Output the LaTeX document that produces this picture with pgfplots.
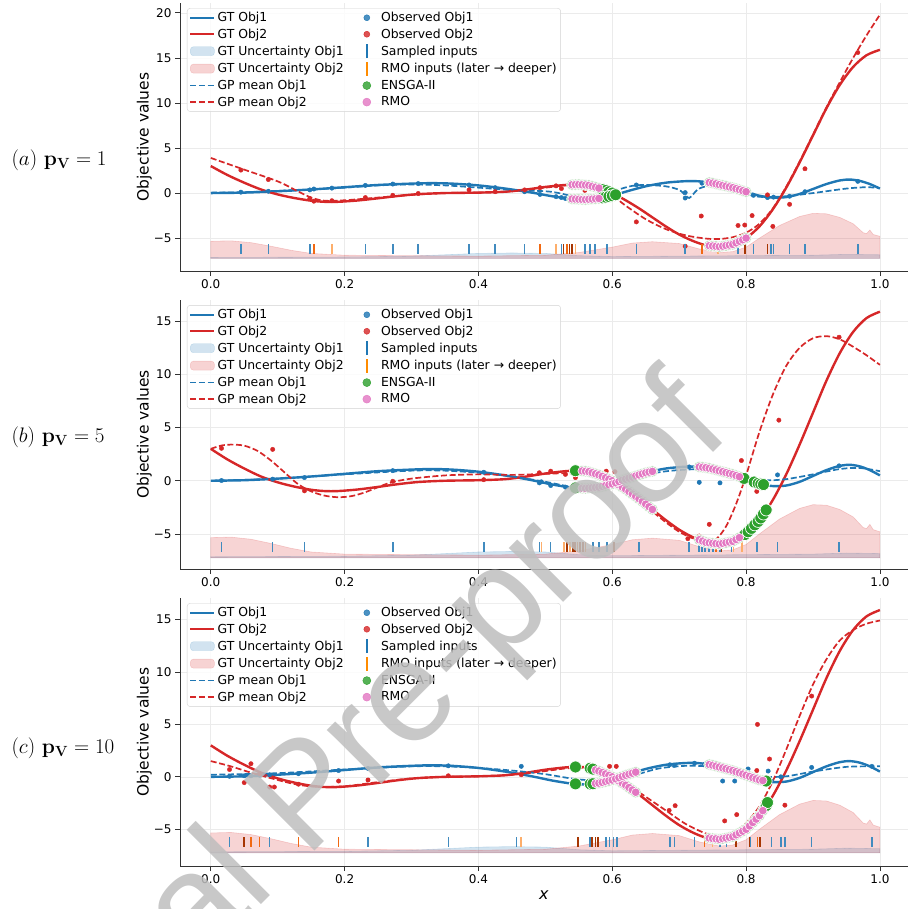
\documentclass[border=0pt]{standalone}
\usepackage{fix-cm}
\usepackage[no-math]{fontspec}
\setmainfont{DejaVu Sans}
\newfontfamily\wmfont{Liberation Sans}
\usepackage{pgfplots}
\pgfplotsset{compat=1.18}

\definecolor{tblue}{HTML}{1F77B4}
\definecolor{tred}{HTML}{D62728}
\definecolor{tgreen}{HTML}{2CA02C}
\definecolor{tpink}{HTML}{E377C2}
\definecolor{orl}{HTML}{FDAE6B}
\definecolor{orm}{HTML}{F16913}
\definecolor{ord}{HTML}{A63603}
\definecolor{wm}{HTML}{BEBEBE}

% ground truth, shared by all panels
\pgfplotstableread{
x y
0 0
0.05 0.05
0.1 0.2
0.15 0.4
0.2 0.65
0.25 0.9
0.3 1.05
0.33 1.1
0.36 1.05
0.4 0.85
0.44 0.5
0.48 0.05
0.51 -0.35
0.54 -0.65
0.56 -0.72
0.58 -0.6
0.6 -0.3
0.62 0.15
0.65 0.75
0.68 1.15
0.71 1.32
0.73 1.3
0.75 1.1
0.78 0.6
0.8 0.15
0.82 -0.3
0.84 -0.5
0.86 -0.45
0.88 -0.1
0.9 0.45
0.92 1.0
0.94 1.4
0.955 1.5
0.97 1.35
0.985 1.0
1.0 0.5
}\gtone

\pgfplotstableread{
x y
0 3.0
0.025 2.0
0.05 1.15
0.075 0.4
0.1 -0.15
0.125 -0.55
0.15 -0.85
0.17 -0.97
0.19 -0.97
0.22 -0.82
0.25 -0.58
0.28 -0.32
0.31 -0.12
0.35 0.0
0.4 0.05
0.44 0.15
0.47 0.38
0.5 0.68
0.53 0.9
0.55 0.95
0.565 0.85
0.58 0.55
0.6 0.0
0.62 -0.8
0.64 -1.7
0.66 -2.7
0.68 -3.7
0.70 -4.6
0.72 -5.3
0.74 -5.8
0.76 -5.95
0.78 -5.7
0.80 -5.0
0.82 -3.7
0.84 -1.8
0.86 0.6
0.88 3.4
0.90 6.4
0.92 9.4
0.94 12.0
0.96 14.0
0.98 15.3
1.0 15.9
}\gttwo

% uncertainty bands (top edge, closed on the baseline)
\pgfplotstableread{
x y
0 -7.25
0 -7.15
0.2 -7.1
0.3 -7.0
0.35 -6.85
0.4 -6.7
0.45 -6.65
0.5 -6.7
0.55 -6.95
0.6 -7.05
0.7 -7.0
0.8 -6.95
0.9 -6.9
0.95 -6.8
1.0 -6.85
1.0 -7.25
}\bandone

\pgfplotstableread{
x y
0 -7.25
0 -5.35
0.03 -5.3
0.06 -5.5
0.09 -5.9
0.12 -6.35
0.15 -6.7
0.2 -6.9
0.3 -6.95
0.4 -7.0
0.5 -6.9
0.55 -6.6
0.6 -6.0
0.63 -5.55
0.66 -5.4
0.7 -5.6
0.73 -6.2
0.76 -6.6
0.78 -6.5
0.8 -6.0
0.82 -5.0
0.85 -3.6
0.88 -2.6
0.9 -2.25
0.92 -2.3
0.94 -2.7
0.96 -3.4
0.975 -4.4
0.98 -4.5
0.985 -4.1
0.99 -4.6
1.0 -4.8
1.0 -7.25
}\bandtwo

\pgfplotsset{
  panel/.style={
    scale only axis, width=728pt, height=268pt,
    xmin=-0.046, xmax=1.042,
    axis x line*=bottom, axis y line*=left,
    axis line style={-, black!80, line width=0.8pt},
    tick align=outside, major tick length=5pt,
    tick style={black!80, line width=0.8pt},
    xmajorgrids, ymajorgrids, grid style={gray!16, line width=0.6pt},
    xtick={0,0.2,0.4,0.6,0.8,1}, xticklabels={0.0,0.2,0.4,0.6,0.8,1.0},
    ticklabel style={font=\fontsize{12}{14}\selectfont},
    ylabel={Objective values}, ylabel shift=-5pt,
    ylabel style={font=\fontsize{15.5}{18}\selectfont},
    legend columns=2, legend cell align=left,
    legend style={at={(0.0096,0.981)}, anchor=north west,
      draw=gray!35, fill=white, fill opacity=0.8, text opacity=1,
      rounded corners=3pt, inner sep=2pt, row sep=1.6pt,
      font=\fontsize{12.4}{14}\selectfont,
      /tikz/every even column/.append style={column sep=9pt}},
  },
  gtline/.style={smooth, line width=2.4pt},
  gpline/.style={smooth, line width=1.7pt, dash pattern=on 6pt off 2.6pt},
  obs/.style={only marks, mark=*, mark size=2.2pt},
  stick/.style={only marks, mark=|, mark size=5pt, mark options={line width=1.6pt}},
  halo/.style={only marks, mark=*, mark size=5.6pt, mark options={fill=tgreen!40, draw=white, line width=0.5pt}},
  ens/.style={only marks, mark=*, mark size=6pt, mark options={fill=tgreen, draw=white, line width=0.7pt}},
  rmo/.style={only marks, mark=*, mark size=4.3pt, mark options={fill=tpink, draw=white, line width=0.6pt}},
}

\newcommand{\sharedlegend}{%
  \addlegendimage{legend image code/.code={\path (0pt,0pt) (24pt,0pt); \draw[tblue, line width=2.4pt] (0pt,0pt) -- (24pt,0pt);}}
  \addlegendentry{GT Obj1}
  \addlegendimage{legend image code/.code={\path (0pt,0pt) (24pt,0pt); \fill[tblue] (12pt,0pt) circle (3pt);}}
  \addlegendentry{Observed Obj1}
  \addlegendimage{legend image code/.code={\path (0pt,0pt) (24pt,0pt); \draw[tred, line width=2.4pt] (0pt,0pt) -- (24pt,0pt);}}
  \addlegendentry{GT Obj2}
  \addlegendimage{legend image code/.code={\path (0pt,0pt) (24pt,0pt); \fill[tred] (12pt,0pt) circle (3pt);}}
  \addlegendentry{Observed Obj2}
  \addlegendimage{legend image code/.code={\fill[tblue, opacity=0.2] (0pt,-4.5pt) rectangle (24pt,4.5pt);}}
  \addlegendentry{GT Uncertainty Obj1}
  \addlegendimage{legend image code/.code={\path (0pt,0pt) (24pt,0pt); \draw[tblue, line width=1.8pt] (12pt,-7pt) -- (12pt,7pt);}}
  \addlegendentry{Sampled inputs}
  \addlegendimage{legend image code/.code={\fill[tred, opacity=0.2] (0pt,-4.5pt) rectangle (24pt,4.5pt);}}
  \addlegendentry{GT Uncertainty Obj2}
  \addlegendimage{legend image code/.code={\path (0pt,0pt) (24pt,0pt); \draw[orange!90!yellow, line width=1.8pt] (12pt,-7pt) -- (12pt,7pt);}}
  \addlegendentry{RMO inputs (later → deeper)}
  \addlegendimage{legend image code/.code={\path (0pt,0pt) (24pt,0pt); \draw[tblue, line width=1.7pt, dash pattern=on 6pt off 2.6pt] (0pt,0pt) -- (24pt,0pt);}}
  \addlegendentry{GP mean Obj1}
  \addlegendimage{legend image code/.code={\path (0pt,0pt) (24pt,0pt); \fill[tgreen] (12pt,0pt) circle (4pt);}}
  \addlegendentry{ENSGA-II}
  \addlegendimage{legend image code/.code={\path (0pt,0pt) (24pt,0pt); \draw[tred, line width=1.7pt, dash pattern=on 6pt off 2.6pt] (0pt,0pt) -- (24pt,0pt);}}
  \addlegendentry{GP mean Obj2}
  \addlegendimage{legend image code/.code={\path (0pt,0pt) (24pt,0pt); \fill[tpink] (12pt,0pt) circle (4pt);}}
  \addlegendentry{RMO}
}

\newcommand{\sharedback}{%
  \addplot[forget plot, fill=tblue, fill opacity=0.2, draw=tblue, draw opacity=0.2, line width=0.6pt] table {\bandone} -- cycle;
  \addplot[forget plot, fill=tred, fill opacity=0.2, draw=tred, draw opacity=0.2, line width=0.6pt] table {\bandtwo} -- cycle;
  \addplot[forget plot, gtline, tblue] table {\gtone};
  \addplot[forget plot, gtline, tred] table {\gttwo};
}

\begin{document}
\begin{tikzpicture}[x=1pt,y=1pt]
\useasboundingbox (0,0) rectangle (908,909);
\clip (0,0) rectangle (908,909);

% ---------------- panel (a)
\begin{axis}[panel, at={(180pt,638pt)}, anchor=south west,
  ymin=-8.65, ymax=21.1, ytick={-5,0,5,10,15,20}, yticklabels={−5,0,5,10,15,20}]
\sharedlegend
\sharedback
\addplot[forget plot, gpline, tblue] coordinates {
(0,0.05) (0.05,0.1) (0.1,0.25) (0.15,0.4) (0.2,0.6) (0.25,0.85) (0.3,0.95) (0.35,0.85)
(0.4,0.6) (0.45,0.35) (0.5,0.2) (0.52,0.0) (0.55,-0.5) (0.57,-0.55) (0.59,-0.2) (0.61,0.4)
(0.63,0.8) (0.65,0.9) (0.68,0.75) (0.7,0.35) (0.71,-0.3) (0.715,-0.55) (0.72,-0.2) (0.73,0.5)
(0.75,0.9) (0.77,0.75) (0.79,0.2) (0.81,-0.3) (0.83,-0.45) (0.86,-0.35) (0.9,0.0) (0.95,0.5)
(0.98,0.65) (1.0,0.55)};
\addplot[forget plot, gpline, tred] coordinates {
(0,3.9) (0.05,2.6) (0.1,1.3) (0.13,0.2) (0.15,-0.5) (0.17,-0.85) (0.2,-0.8) (0.25,-0.5)
(0.3,-0.2) (0.35,0.0) (0.4,0.05) (0.45,0.2) (0.5,0.6) (0.53,0.85) (0.55,0.85) (0.57,0.6)
(0.6,-0.3) (0.62,-1.4) (0.65,-2.9) (0.68,-4.0) (0.71,-4.7) (0.74,-5.05) (0.76,-5.1) (0.78,-4.9)
(0.8,-4.4) (0.82,-3.4) (0.84,-1.7) (0.86,0.7) (0.88,3.5) (0.9,6.5) (0.92,9.5) (0.94,12.3)
(0.96,15.0) (0.98,17.5) (1.0,19.8)};
\addplot[forget plot, obs, tblue] coordinates {
(0.045,0.1) (0.086,0.2) (0.148,0.35) (0.154,0.45) (0.181,0.55) (0.231,0.85) (0.272,1.0)
(0.31,1.05) (0.386,0.9) (0.425,0.6) (0.469,0.15) (0.492,-0.15) (0.516,-0.4) (0.524,-0.5)
(0.53,-0.6) (0.538,-0.65) (0.545,-0.7) (0.559,-0.75) (0.567,-0.7) (0.574,-0.65) (0.592,-0.45)
(0.636,0.9) (0.709,-0.55) (0.709,0.05) (0.734,1.1) (0.758,1.0) (0.788,0.3) (0.798,0.05)
(0.811,-0.25) (0.832,-0.5) (0.841,-0.45) (0.865,-0.35) (0.888,0.15) (0.967,1.3)};
\addplot[forget plot, obs, tred] coordinates {
(0.045,2.55) (0.086,1.5) (0.148,-0.6) (0.154,-0.9) (0.181,-0.85) (0.231,-0.5) (0.272,-0.25)
(0.31,-0.05) (0.386,0.35) (0.425,0.15) (0.469,0.35) (0.492,0.6) (0.516,0.8) (0.524,0.5)
(0.538,0.85) (0.559,0.3) (0.567,-0.5) (0.574,0.95) (0.592,0.6) (0.636,-3.2) (0.709,-5.9)
(0.733,-2.55) (0.788,-3.6) (0.798,-3.55) (0.809,-2.5) (0.832,-0.2) (0.84,-3.7) (0.865,-1.25)
(0.888,2.7) (0.967,15.6)};
\addplot[forget plot, stick, tblue!85] coordinates {
(0.045,-6.25) (0.086,-6.25) (0.148,-6.25) (0.231,-6.25) (0.272,-6.25) (0.31,-6.25) (0.386,-6.25)
(0.425,-6.25) (0.469,-6.25) (0.524,-6.25) (0.559,-6.25) (0.567,-6.25) (0.574,-6.25) (0.592,-6.25)
(0.636,-6.25) (0.709,-6.25) (0.788,-6.25) (0.811,-6.25) (0.837,-6.25) (0.841,-6.25) (0.865,-6.25)
(0.888,-6.25) (0.967,-6.25)};
\addplot[forget plot, stick, orl] coordinates {(0.181,-6.25) (0.516,-6.25) (0.545,-6.25) (0.758,-6.25)};
\addplot[forget plot, stick, orm] coordinates {(0.154,-6.25) (0.492,-6.25) (0.532,-6.25) (0.734,-6.25)};
\addplot[forget plot, stick, ord] coordinates {(0.527,-6.25) (0.536,-6.25) (0.54,-6.25) (0.798,-6.25) (0.832,-6.25)};
\pgfplotstableread{
x y
0.54 0.93
0.545 0.94
0.55 0.95
0.555 0.92
0.56 0.89
0.565 0.85
0.57 0.75
0.575 0.65
0.58 0.55
0.54 -0.65
0.545 -0.67
0.55 -0.69
0.555 -0.71
0.56 -0.72
0.565 -0.69
0.57 -0.66
0.575 -0.63
0.58 -0.6
0.745 1.17
0.75 1.1
0.755 1.02
0.76 0.93
0.765 0.85
0.77 0.77
0.775 0.68
0.78 0.6
0.785 0.49
0.79 0.38
0.795 0.26
0.8 0.15
0.745 -5.84
0.75 -5.88
0.755 -5.91
0.76 -5.95
0.765 -5.89
0.77 -5.83
0.775 -5.76
0.78 -5.7
0.785 -5.53
0.79 -5.35
0.795 -5.18
0.8 -5.0
}\rmoa
\addplot[forget plot, halo] table {\rmoa};
\addplot[forget plot, ens] coordinates {
(0.585,0.41) (0.59,0.28) (0.595,0.14) (0.6,0.0) (0.605,-0.2)
(0.585,-0.53) (0.59,-0.45) (0.595,-0.38) (0.6,-0.3) (0.605,-0.19)};
\addplot[forget plot, rmo] table {\rmoa};
\end{axis}

% ---------------- panel (b)
\begin{axis}[panel, at={(180pt,340pt)}, anchor=south west, height=269pt,
  ymin=-8.3, ymax=17.0, ytick={-5,0,5,10,15}, yticklabels={−5,0,5,10,15}]
\sharedlegend
\sharedback
\addplot[forget plot, gpline, tblue] coordinates {
(0,0.0) (0.1,0.2) (0.2,0.6) (0.3,0.95) (0.35,0.95) (0.4,0.75) (0.45,0.4) (0.5,-0.1)
(0.54,-0.6) (0.56,-0.7) (0.6,-0.4) (0.63,0.2) (0.67,0.8) (0.71,1.05) (0.74,1.05) (0.77,0.8)
(0.8,0.35) (0.83,0.05) (0.86,0.15) (0.9,0.6) (0.94,1.1) (0.97,1.2) (1.0,0.9)};
\addplot[forget plot, gpline, tred] coordinates {
(0,3.0) (0.015,3.3) (0.03,3.4) (0.05,3.3) (0.07,2.8) (0.09,1.9) (0.11,0.8) (0.13,-0.3)
(0.15,-1.0) (0.17,-1.4) (0.19,-1.55) (0.21,-1.45) (0.23,-1.1) (0.25,-0.6) (0.27,-0.15)
(0.3,0.2) (0.35,0.5) (0.4,0.6) (0.45,0.55) (0.5,0.65) (0.53,0.7) (0.56,0.55) (0.58,0.3)
(0.6,-0.2) (0.62,-1.0) (0.64,-2.0) (0.66,-2.9) (0.68,-3.9) (0.7,-4.8) (0.72,-5.4) (0.74,-5.7)
(0.755,-5.5) (0.77,-4.3) (0.785,-2.2) (0.8,0.5) (0.82,4.6) (0.84,8.1) (0.86,10.8) (0.88,12.5)
(0.9,13.4) (0.92,13.6) (0.94,13.3) (0.96,12.6) (0.98,11.8) (1.0,10.9)};
\addplot[forget plot, obs, tblue] coordinates {
(0.016,0.02) (0.0925,0.15) (0.14,0.3) (0.272,0.95) (0.408,0.8) (0.491,-0.2) (0.494,-0.1)
(0.508,-0.45) (0.53,-0.6) (0.54,-0.55) (0.548,-0.7) (0.556,-0.65) (0.571,-0.6) (0.58,-0.55)
(0.592,-0.4) (0.603,-0.3) (0.64,0.5) (0.715,1.3) (0.73,-0.15) (0.734,1.25) (0.745,1.1)
(0.751,1.05) (0.761,-0.2) (0.778,0.65) (0.794,0.25) (0.816,-0.25) (0.847,0.55) (0.939,1.4)};
\addplot[forget plot, obs, tred] coordinates {
(0.016,3.05) (0.0925,2.95) (0.14,-0.95) (0.272,-0.05) (0.408,0.1) (0.491,0.75) (0.508,0.9)
(0.53,0.6) (0.545,0.3) (0.556,0.9) (0.571,0.95) (0.591,0.9) (0.604,0.85) (0.64,-2.0)
(0.713,-5.45) (0.73,-5.2) (0.745,-4.1) (0.761,-5.9) (0.778,-5.5) (0.793,1.9) (0.816,-1.0)
(0.849,5.7) (0.939,13.5)};
\addplot[forget plot, stick, tblue!85] coordinates {
(0.016,-6.25) (0.0925,-6.25) (0.14,-6.25) (0.272,-6.25) (0.408,-6.25) (0.491,-6.25) (0.508,-6.25)
(0.571,-6.25) (0.58,-6.25) (0.592,-6.25) (0.64,-6.25) (0.715,-6.25) (0.73,-6.25) (0.734,-6.25)
(0.739,-6.25) (0.745,-6.25) (0.751,-6.25) (0.761,-6.25) (0.778,-6.25) (0.816,-6.25) (0.847,-6.25)
(0.939,-6.25)};
\addplot[forget plot, stick, orl] coordinates {(0.494,-6.25) (0.528,-6.25) (0.537,-6.25) (0.781,-6.25) (0.794,-6.25)};
\addplot[forget plot, stick, orm] coordinates {(0.548,-6.25) (0.56,-6.25) (0.755,-6.25)};
\addplot[forget plot, stick, ord] coordinates {(0.532,-6.25) (0.541,-6.25) (0.544,-6.25) (0.552,-6.25) (0.556,-6.25) (0.603,-6.25) (0.763,-6.25)};
\pgfplotstableread{
x y
0.555 0.92
0.56 0.89
0.565 0.85
0.57 0.75
0.575 0.65
0.58 0.55
0.585 0.41
0.59 0.28
0.595 0.14
0.6 0.0
0.605 -0.2
0.61 -0.4
0.615 -0.6
0.62 -0.8
0.625 -1.02
0.63 -1.25
0.635 -1.47
0.64 -1.7
0.645 -1.95
0.65 -2.2
0.655 -2.45
0.66 -2.7
0.555 -0.71
0.56 -0.72
0.565 -0.69
0.57 -0.66
0.575 -0.63
0.58 -0.6
0.585 -0.53
0.59 -0.45
0.595 -0.38
0.6 -0.3
0.605 -0.19
0.61 -0.08
0.615 0.04
0.62 0.15
0.625 0.25
0.63 0.35
0.635 0.45
0.64 0.55
0.645 0.65
0.65 0.75
0.655 0.82
0.66 0.88
0.73 1.3
0.735 1.27
0.74 1.23
0.745 1.17
0.75 1.1
0.755 1.02
0.76 0.93
0.765 0.85
0.77 0.77
0.775 0.68
0.78 0.6
0.785 0.49
0.79 0.38
0.73 -5.55
0.735 -5.68
0.74 -5.8
0.745 -5.84
0.75 -5.88
0.755 -5.91
0.76 -5.95
0.765 -5.89
0.77 -5.83
0.775 -5.76
0.78 -5.7
0.785 -5.53
0.79 -5.35
}\rmob
\addplot[forget plot, halo] table {\rmob};
\addplot[forget plot, ens] coordinates {
(0.545,0.94) (0.545,-0.67) (0.797,0.22) (0.812,-0.12) (0.818,-0.25) (0.822,-0.32) (0.826,-0.36)
(0.798,-5.07) (0.803,-4.8) (0.808,-4.48) (0.813,-4.15) (0.818,-3.83) (0.822,-3.5) (0.826,-3.13) (0.83,-2.75)};
\addplot[forget plot, rmo] table {\rmob};
\end{axis}

% ---------------- panel (c)
\begin{axis}[panel, at={(180pt,43pt)}, anchor=south west,
  ymin=-8.5, ymax=17.05, ytick={-5,0,5,10,15}, yticklabels={−5,0,5,10,15},
  xlabel={\textit{x}}, xlabel style={font=\fontsize{16}{18}\selectfont}]
\sharedlegend
\sharedback
\addplot[forget plot, gpline, tblue] coordinates {
(0,0.2) (0.1,0.35) (0.2,0.7) (0.3,1.0) (0.35,1.0) (0.4,0.85) (0.45,0.6) (0.5,0.25)
(0.55,-0.25) (0.6,-0.35) (0.63,0.1) (0.67,0.8) (0.71,1.05) (0.74,1.0) (0.77,0.7) (0.8,0.2)
(0.83,0.0) (0.86,0.05) (0.9,0.5) (0.95,0.95) (1.0,1.0)};
\addplot[forget plot, gpline, tred] coordinates {
(0,1.5) (0.03,1.0) (0.06,0.4) (0.1,-0.3) (0.13,-0.75) (0.16,-0.95) (0.2,-0.9) (0.25,-0.5)
(0.3,-0.15) (0.35,0.0) (0.4,0.05) (0.45,0.2) (0.5,0.55) (0.53,0.8) (0.55,0.85) (0.57,0.7)
(0.6,0.1) (0.62,-0.6) (0.65,-1.9) (0.68,-3.2) (0.71,-4.5) (0.74,-5.4) (0.76,-5.6) (0.78,-5.3)
(0.8,-4.4) (0.82,-2.8) (0.84,-0.4) (0.86,2.6) (0.88,5.8) (0.9,8.8) (0.92,11.2) (0.94,13.0)
(0.96,14.0) (0.98,14.6) (1.0,14.9)};
\addplot[forget plot, obs, tblue] coordinates {
(0.028,0.05) (0.05,0.1) (0.06,0.1) (0.073,0.15) (0.088,0.2) (0.131,0.3) (0.191,0.6) (0.235,0.8)
(0.355,1.05) (0.464,1.0) (0.549,-0.7) (0.567,-0.7) (0.575,-0.6) (0.591,-0.5) (0.602,-0.3)
(0.607,-0.2) (0.686,1.15) (0.693,1.1) (0.723,1.3) (0.738,1.2) (0.75,1.05) (0.765,-0.4)
(0.783,-0.4) (0.803,0.75) (0.806,0.0) (0.833,0.55) (0.838,-0.4) (0.852,0.0) (0.898,0.9) (0.988,1.0)};
\addplot[forget plot, obs, tred] coordinates {
(0.028,0.7) (0.05,-0.55) (0.06,1.25) (0.073,0.3) (0.088,-0.97) (0.095,-0.97) (0.131,-0.7)
(0.191,-0.4) (0.235,-0.3) (0.355,0.1) (0.464,0.2) (0.549,1.15) (0.567,0.8) (0.596,1.0)
(0.606,1.0) (0.685,-3.2) (0.694,-2.75) (0.768,-4.2) (0.786,-3.6) (0.816,0.6) (0.817,5.0)
(0.835,1.7) (0.858,-2.7) (0.898,7.7)};
\addplot[forget plot, stick, tblue!85] coordinates {
(0.028,-6.25) (0.088,-6.25) (0.235,-6.25) (0.355,-6.25) (0.457,-6.25) (0.567,-6.25) (0.591,-6.25)
(0.596,-6.25) (0.602,-6.25) (0.607,-6.25) (0.686,-6.25) (0.693,-6.25) (0.723,-6.25) (0.761,-6.25)
(0.771,-6.25) (0.806,-6.25) (0.838,-6.25) (0.852,-6.25) (0.858,-6.25) (0.898,-6.25) (0.988,-6.25)};
\addplot[forget plot, stick, orl] coordinates {(0.464,-6.25) (0.75,-6.25)};
\addplot[forget plot, stick, orm] coordinates {(0.06,-6.25) (0.073,-6.25) (0.131,-6.25) (0.191,-6.25) (0.738,-6.25) (0.817,-6.25)};
\addplot[forget plot, stick, ord] coordinates {(0.05,-6.25) (0.549,-6.25) (0.57,-6.25) (0.575,-6.25) (0.579,-6.25) (0.785,-6.25) (0.805,-6.25) (0.821,-6.25)};
\pgfplotstableread{
x y
0.575 0.65
0.58 0.55
0.585 0.41
0.59 0.28
0.595 0.14
0.6 0.0
0.605 -0.2
0.61 -0.4
0.615 -0.6
0.62 -0.8
0.625 -1.02
0.63 -1.25
0.635 -1.47
0.575 -0.63
0.58 -0.6
0.585 -0.53
0.59 -0.45
0.595 -0.38
0.6 -0.3
0.605 -0.19
0.61 -0.08
0.615 0.04
0.62 0.15
0.625 0.25
0.63 0.35
0.635 0.45
0.745 1.17
0.75 1.1
0.755 1.02
0.76 0.93
0.765 0.85
0.77 0.77
0.775 0.68
0.78 0.6
0.785 0.49
0.79 0.38
0.795 0.26
0.8 0.15
0.805 0.04
0.81 -0.08
0.815 -0.19
0.82 -0.3
0.825 -0.35
0.745 -5.84
0.75 -5.88
0.755 -5.91
0.76 -5.95
0.765 -5.89
0.77 -5.83
0.775 -5.76
0.78 -5.7
0.785 -5.53
0.79 -5.35
0.795 -5.18
0.8 -5.0
0.805 -4.68
0.81 -4.35
0.815 -4.03
0.82 -3.7
0.825 -3.22
}\rmoc
\addplot[forget plot, halo] table {\rmoc};
\addplot[forget plot, ens] coordinates {
(0.545,0.94) (0.545,-0.67) (0.567,0.82) (0.567,-0.68) (0.571,0.74) (0.571,-0.66)
(0.83,-0.4) (0.83,-2.75) (0.832,-2.45)};
\addplot[forget plot, rmo] table {\rmoc};
\end{axis}

% panel labels
\node[anchor=west, font=\fontsize{21}{25}\selectfont] at (8,749) {$(a)\ \mathbf{p}_{\mathbf{V}} = 1$};
\node[anchor=west, font=\fontsize{21}{25}\selectfont] at (8,472) {$(b)\ \mathbf{p}_{\mathbf{V}} = 5$};
\node[anchor=west, font=\fontsize{21}{25}\selectfont] at (8,161) {$(c)\ \mathbf{p}_{\mathbf{V}} = 10$};

% watermark
\node[rotate=45, text=wm, opacity=0.85, font=\wmfont\fontsize{145}{145}\selectfont] at (311,107) {Journal Pre-proof};
\end{tikzpicture}
\end{document}
